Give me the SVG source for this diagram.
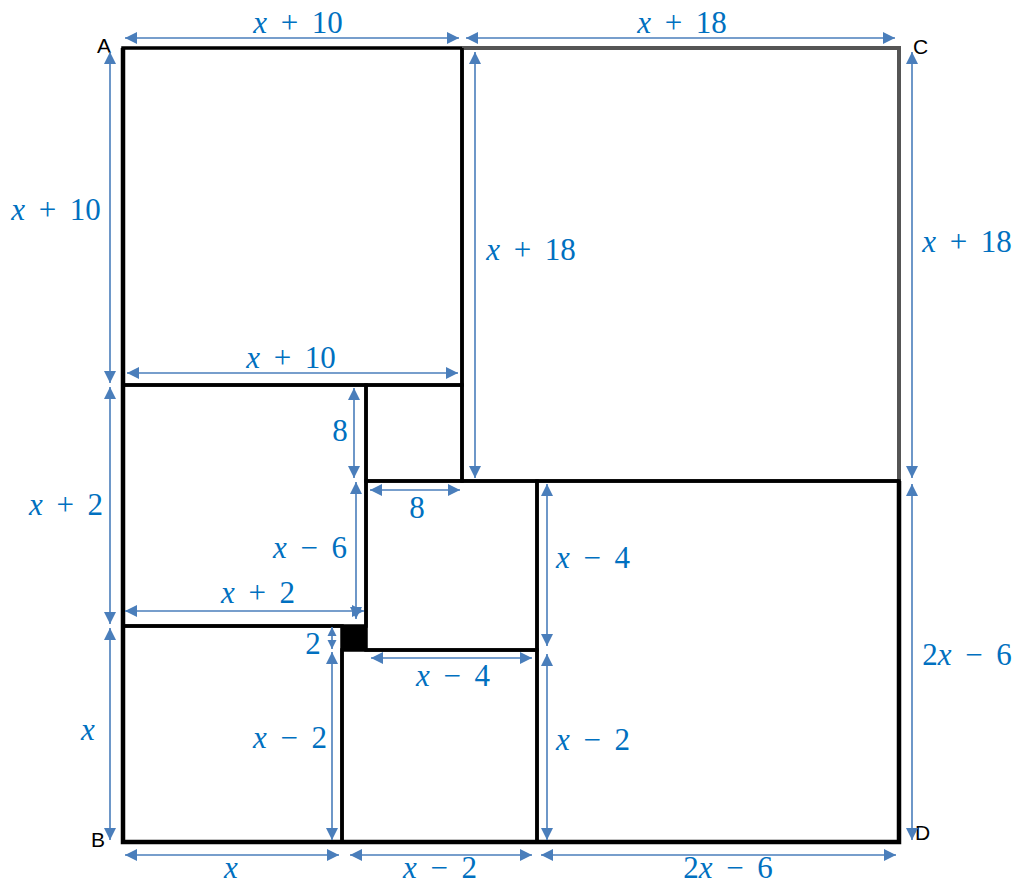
<svg xmlns="http://www.w3.org/2000/svg" width="1019" height="886" viewBox="0 0 1019 886">
<style>
.sq{fill:none;stroke:#000;stroke-width:3.5}
.dim{stroke:#4a7ebb;stroke-width:1.6;fill:none;marker-start:url(#ah);marker-end:url(#ah)}
.dims{stroke:#4a7ebb;stroke-width:1.6;fill:none;marker-start:url(#ahs);marker-end:url(#ahs)}
.lbl{font-family:"Liberation Serif",serif;font-size:31px;fill:#0070c0;text-anchor:middle;word-spacing:6px}
.x{font-style:italic}
.corner{font-family:"Liberation Sans",Arial,sans-serif;font-size:21px;fill:#000}
</style>
<defs>
<marker id="ah" viewBox="0 0 10 10" refX="10" refY="5" markerWidth="14" markerHeight="12" markerUnits="userSpaceOnUse" orient="auto-start-reverse">
<path d="M0,0 L10,5 L0,10 z" fill="#4a7ebb"/>
</marker>
<marker id="ahs" viewBox="0 0 10 10" refX="10" refY="5" markerWidth="9" markerHeight="10" markerUnits="userSpaceOnUse" orient="auto-start-reverse">
<path d="M0,0 L10,5 L0,10 z" fill="#4a7ebb"/>
</marker>
</defs>
<rect width="1019" height="886" fill="#fff"/>
<g id="squares">
<g id="sq-top-left"><rect class="sq" x="123" y="48" width="339" height="337"/></g>
<g id="sq-top-right"><path d="M462,48 L899,48 L899,481" fill="none" stroke="#555" stroke-width="4"/><path d="M462,48 L462,481 L899,481" class="sq"/></g>
<g id="sq-mid-left"><rect class="sq" x="123" y="385" width="243" height="241"/></g>
<g id="sq-small-8"><rect class="sq" x="366" y="385" width="96" height="96"/></g>
<g id="sq-center"><rect class="sq" x="366" y="481" width="171" height="169"/></g>
<g id="sq-tiny"><rect x="342" y="626" width="24" height="24" fill="#000" stroke="#000" stroke-width="2"/></g>
<g id="sq-bottom-left"><rect class="sq" x="123" y="626" width="219" height="216"/></g>
<g id="sq-bottom-mid"><rect class="sq" x="342" y="650" width="195" height="192"/></g>
<g id="sq-bottom-right"><rect class="sq" x="537" y="481" width="362" height="361"/></g>
<path d="M123,48 L123,842 L899,842 L899,481" fill="none" stroke="#000" stroke-width="4.5"/>
</g>
<g id="corners">
<text class="corner" x="97" y="53">A</text>
<text class="corner" x="913" y="54">C</text>
<text class="corner" x="91" y="847">B</text>
<text class="corner" x="915" y="840">D</text>
</g>
<g id="connectors">
<line class="dim" x1="125" y1="38" x2="459" y2="38"/>
<line class="dim" x1="466" y1="38" x2="895" y2="38"/>
<line class="dim" x1="110" y1="52" x2="110" y2="383"/>
<line class="dim" x1="110" y1="387" x2="110" y2="624"/>
<line class="dim" x1="110" y1="628" x2="110" y2="840"/>
<line class="dim" x1="127" y1="373" x2="458" y2="373"/>
<line class="dim" x1="475" y1="52" x2="475" y2="478"/>
<line class="dim" x1="912" y1="52" x2="912" y2="478"/>
<line class="dim" x1="912" y1="484" x2="912" y2="840"/>
<line class="dim" x1="354" y1="388" x2="354" y2="478"/>
<line class="dim" x1="370" y1="490" x2="460" y2="490"/>
<line class="dim" x1="356" y1="482" x2="356" y2="619"/>
<line class="dim" x1="125" y1="611" x2="364" y2="611"/>
<line class="dims" x1="332" y1="627" x2="332" y2="649"/>
<line class="dim" x1="332" y1="652" x2="332" y2="840"/>
<line class="dim" x1="371" y1="658" x2="532" y2="658"/>
<line class="dim" x1="547" y1="484" x2="547" y2="646"/>
<line class="dim" x1="547" y1="654" x2="547" y2="840"/>
<line class="dim" x1="125" y1="855" x2="339" y2="855"/>
<line class="dim" x1="350" y1="855" x2="532" y2="855"/>
<line class="dim" x1="541" y1="855" x2="896" y2="855"/>
</g>
<g id="labels">
<text class="lbl" x="298" y="33"><tspan class="x">x</tspan> + 10</text>
<text class="lbl" x="682" y="33"><tspan class="x">x</tspan> + 18</text>
<text class="lbl" x="56" y="220"><tspan class="x">x</tspan> + 10</text>
<text class="lbl" x="66" y="515"><tspan class="x">x</tspan> + 2</text>
<text class="lbl" x="88" y="740"><tspan class="x">x</tspan></text>
<text class="lbl" x="291" y="368"><tspan class="x">x</tspan> + 10</text>
<text class="lbl" x="531" y="260"><tspan class="x">x</tspan> + 18</text>
<text class="lbl" x="967" y="252"><tspan class="x">x</tspan> + 18</text>
<text class="lbl" x="967" y="665">2<tspan class="x">x</tspan> − 6</text>
<text class="lbl" x="340" y="441">8</text>
<text class="lbl" x="417" y="518">8</text>
<text class="lbl" x="310" y="558"><tspan class="x">x</tspan> − 6</text>
<text class="lbl" x="258" y="603"><tspan class="x">x</tspan> + 2</text>
<text class="lbl" x="313" y="654">2</text>
<text class="lbl" x="290" y="748"><tspan class="x">x</tspan> − 2</text>
<text class="lbl" x="453" y="686"><tspan class="x">x</tspan> − 4</text>
<text class="lbl" x="593" y="568"><tspan class="x">x</tspan> − 4</text>
<text class="lbl" x="593" y="750"><tspan class="x">x</tspan> − 2</text>
<text class="lbl" x="231" y="878"><tspan class="x">x</tspan></text>
<text class="lbl" x="440" y="878"><tspan class="x">x</tspan> − 2</text>
<text class="lbl" x="728" y="878">2<tspan class="x">x</tspan> − 6</text>
</g>
</svg>
